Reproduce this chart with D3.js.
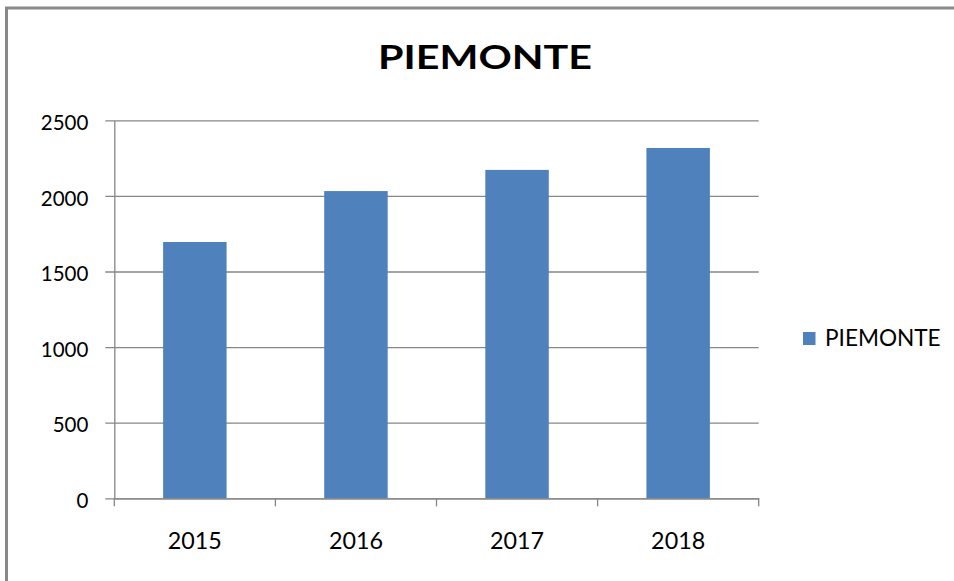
<!DOCTYPE html>
<html>
<head>
<meta charset="utf-8">
<script src="https://cdn.jsdelivr.net/npm/d3@7"></script>
<style>
  body { margin: 0; background: #fff; }
  svg { display: block; font-family: Lato, "Open Sans", sans-serif; }
</style>
</head>
<body>
<div id="chart"></div>
<script>
// data
const years = ["2015", "2016", "2017", "2018"];
const values = [1695, 2032, 2172, 2317];
const yTicks = [0, 500, 1000, 1500, 2000, 2500];
const seriesName = "PIEMONTE";

const W = 954, H = 581;
const margin = {top: 120.3, left: 114.3};
const plotW = 644.4, plotH = 378;

const svg = d3.select("#chart")
    .append("svg")
    .attr("width", W)
    .attr("height", H);

// outer frame (only top and left edges are visible)
svg.append("rect")
    .attr("x", 6.5).attr("y", 8)
    .attr("width", W + 20).attr("height", H + 20)
    .attr("fill", "none")
    .attr("stroke", "#898989")
    .attr("stroke-width", 3);

// title
svg.append("text")
    .attr("x", 485).attr("y", 69.3)
    .attr("text-anchor", "middle")
    .attr("font-size", 32.5)
    .attr("font-weight", "bold")
    .attr("textLength", 214)
    .attr("lengthAdjust", "spacingAndGlyphs")
    .attr("fill", "#000")
    .text("PIEMONTE");

const g = svg.append("g")
    .attr("transform", `translate(${margin.left}, ${margin.top})`);

const x = d3.scaleBand()
    .domain(years)
    .range([0, plotW])
    .padding(0);

const y = d3.scaleLinear()
    .domain([0, 2500])
    .range([plotH, 0]);

// y axis with gridlines
const yAxis = g.append("g")
    .call(d3.axisLeft(y)
        .tickValues(yTicks)
        .tickFormat(d3.format("d"))
        .tickSize(9).tickSizeOuter(0).tickPadding(17));
yAxis.select(".domain").attr("stroke", "#868686").attr("stroke-width", 1.3);
yAxis.selectAll(".tick line")
    .attr("x1", plotW)
    .attr("stroke", "#868686")
    .attr("stroke-width", 1.3);
yAxis.selectAll(".tick text")
    .attr("font-size", 20.5)
    .attr("font-family", "Lato, sans-serif")
    .attr("dy", "0.45em")
    .attr("fill", "#000");

// bars
const barFrac = 0.394;
g.append("g")
    .selectAll("rect")
    .data(years)
    .enter()
    .append("rect")
    .attr("x", d => x(d) + x.bandwidth() * (1 - barFrac) / 2)
    .attr("width", x.bandwidth() * barFrac)
    .attr("y", (d, i) => y(values[i]))
    .attr("height", (d, i) => plotH - y(values[i]))
    .attr("fill", "#4F81BD");

// x axis: baseline, category boundary ticks, labels
const xAxis = g.append("g")
    .attr("transform", `translate(0, ${plotH})`)
    .call(d3.axisBottom(x).tickSize(0).tickPadding(34));
xAxis.select(".domain").attr("stroke", "#868686").attr("stroke-width", 1.3);
xAxis.selectAll(".tick text")
    .attr("font-size", 23.3)
    .attr("font-family", "Lato, sans-serif")
    .attr("fill", "#000");

const bounds = years.map(d => x(d)).concat([x.range()[1]]);
xAxis.selectAll(".bound")
    .data(bounds)
    .enter()
    .append("line")
    .attr("class", "bound")
    .attr("x1", d => d).attr("x2", d => d)
    .attr("y1", 0).attr("y2", 8)
    .attr("stroke", "#868686")
    .attr("stroke-width", 1.3);

// legend
const legend = svg.append("g")
    .attr("transform", "translate(803, 332)");
legend.append("rect")
    .attr("width", 12.5).attr("height", 13)
    .attr("fill", "#4F81BD");
legend.append("text")
    .attr("x", 22).attr("y", 14)
    .attr("font-size", 22.6)
    .attr("fill", "#000")
    .text(seriesName);
</script>
</body>
</html>
